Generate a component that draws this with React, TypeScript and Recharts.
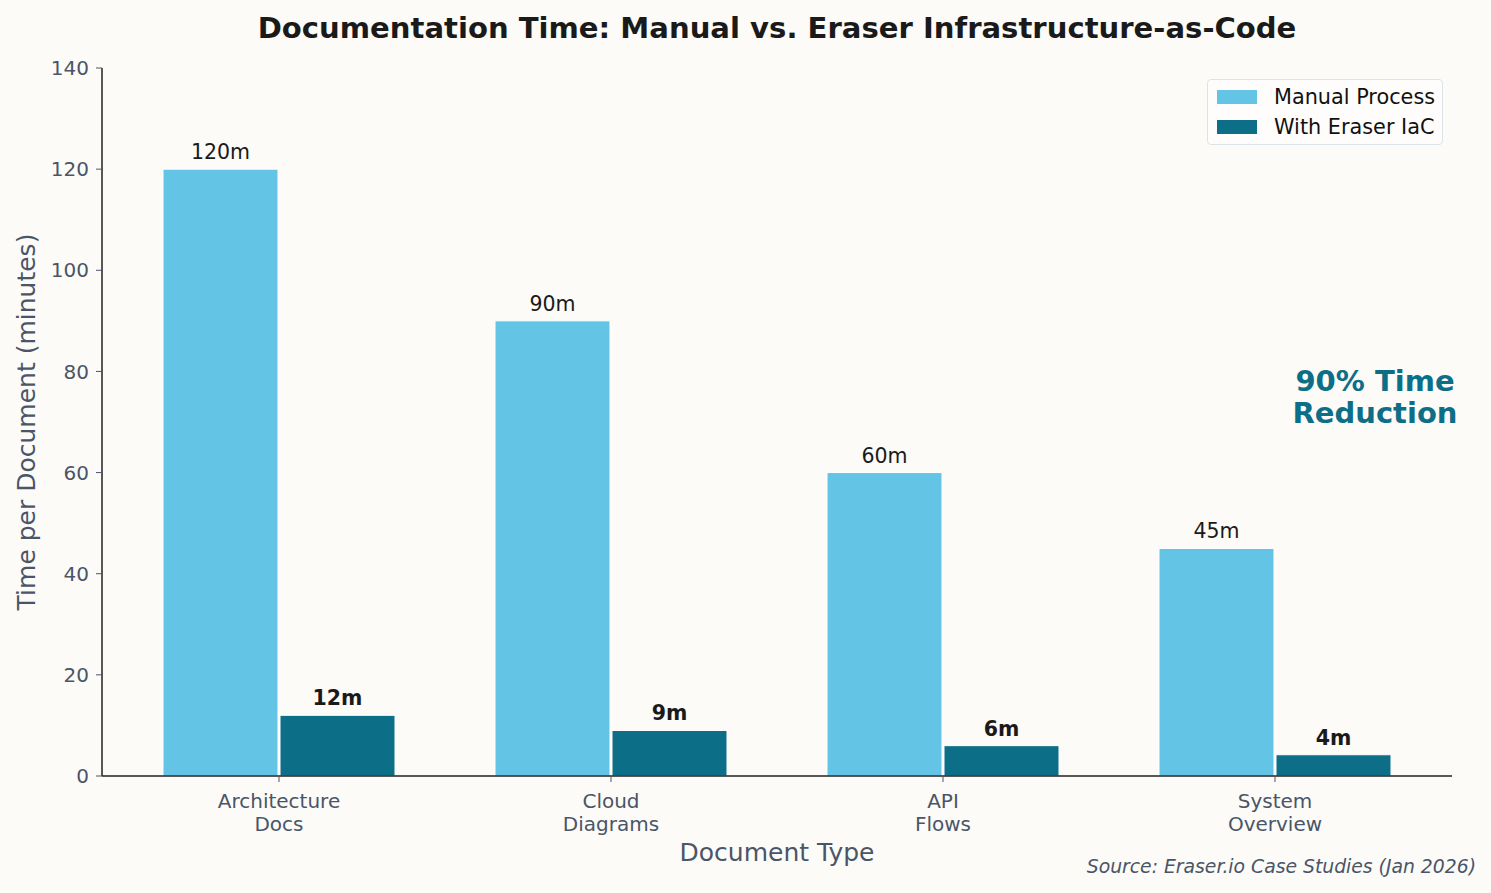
import React from 'react';
import { BarChart, Bar, XAxis, YAxis, LabelList } from 'recharts';

const categories = ['Architecture\nDocs', 'Cloud\nDiagrams', 'API\nFlows', 'System\nOverview'];
const manualMinutes = [120, 90, 60, 45];
const eraserMinutes = [12, 9, 6, 4.2];
const eraserLabels = ['12m', '9m', '6m', '4m'];
const yTicks = [0, 20, 40, 60, 80, 100, 120, 140];

const MANUAL = '#64C4E5';
const ERASER = '#0C6E87';
const GRAY = '#4A5568';
const FONT = 'DejaVu Sans, sans-serif';

const data = categories.map((name, i) => ({
  name,
  manual: manualMinutes[i],
  eraser: eraserMinutes[i],
  eraserLabel: eraserLabels[i],
}));

const CategoryTick = (props: any) => {
  const { x, y, payload } = props;
  const lines = String(payload.value).split('\n');
  return (
    <g>
      <line x1={x} x2={x} y1={y - 8} y2={y - 2} stroke={GRAY} strokeWidth={1} />
      {lines.map((line, i) => (
        <text
          key={i}
          x={x}
          y={y + 24 + i * 23}
          textAnchor="middle"
          fill={GRAY}
          fontSize={20}
          fontFamily={FONT}
        >
          {line}
        </text>
      ))}
    </g>
  );
};

const legendItems = [
  { label: 'Manual Process', color: MANUAL },
  { label: 'With Eraser IaC', color: ERASER },
];

const text = (style: React.CSSProperties): React.CSSProperties => ({
  position: 'absolute',
  whiteSpace: 'nowrap',
  ...style,
});

export default function App() {
  return (
    <div
      style={{
        position: 'fixed',
        left: 0,
        top: 0,
        width: 1491,
        height: 893,
        background: '#FCFBF7',
        fontFamily: FONT,
      }}
    >
      <div
        style={text({
          left: 102,
          width: 1350,
          top: 11,
          lineHeight: '34px',
          textAlign: 'center',
          fontSize: 29.1,
          fontWeight: 'bold',
          color: '#1a1a1a',
        })}
      >
        Documentation Time: Manual vs. Eraser Infrastructure-as-Code
      </div>

      <BarChart
        width={1491}
        height={893}
        data={data}
        margin={{ top: 68, right: 39, left: 42, bottom: 57 }}
        barSize={115}
        barGap={2}
      >
        <XAxis
          dataKey="name"
          height={60}
          tick={<CategoryTick />}
          tickLine={false}
          axisLine={{ stroke: '#222', strokeWidth: 1.5 }}
          padding={{ left: 11, right: 11 }}
          interval={0}
        />
        <YAxis
          width={60}
          domain={[0, 140]}
          ticks={yTicks}
          allowDataOverflow
          tick={{ fill: GRAY, fontSize: 20, fontFamily: FONT }}
          tickLine={{ stroke: GRAY }}
          tickSize={6}
          tickMargin={7}
          axisLine={{ stroke: '#222', strokeWidth: 1.5 }}
        />
        <Bar dataKey="manual" fill={MANUAL} stroke="#ffffff" strokeWidth={1} isAnimationActive={false}>
          <LabelList
            dataKey="manual"
            position="top"
            offset={10}
            formatter={(v: any) => `${v}m`}
            style={{ fill: '#1a1a1a', fontSize: 20.5, fontFamily: FONT }}
          />
        </Bar>
        <Bar dataKey="eraser" fill={ERASER} stroke="#ffffff" strokeWidth={1} isAnimationActive={false}>
          <LabelList
            dataKey="eraserLabel"
            position="top"
            offset={10}
            style={{ fill: '#1a1a1a', fontSize: 20.5, fontWeight: 'bold', fontFamily: FONT }}
          />
        </Bar>
      </BarChart>

      <div
        style={{
          position: 'absolute',
          left: 1207,
          top: 79,
          width: 236,
          height: 66,
          boxSizing: 'border-box',
          border: '1.5px solid #DDE3EA',
          borderRadius: 4,
          background: 'rgba(255,255,255,0.6)',
          padding: '2px 0 0 9px',
          fontSize: 20.8,
          color: '#111',
        }}
      >
        {legendItems.map((item) => (
          <div key={item.label} style={{ display: 'flex', alignItems: 'center', height: 30 }}>
            <span style={{ width: 40, height: 14, background: item.color, marginRight: 17 }} />
            <span>{item.label}</span>
          </div>
        ))}
      </div>

      <div
        style={text({
          left: 26,
          top: 422,
          transform: 'translate(-50%, -50%) rotate(-90deg)',
          fontSize: 25,
          color: GRAY,
        })}
      >
        Time per Document (minutes)
      </div>
      <div
        style={text({
          left: 102,
          width: 1350,
          top: 838,
          lineHeight: '30px',
          textAlign: 'center',
          fontSize: 25,
          color: GRAY,
        })}
      >
        Document Type
      </div>
      <div
        style={text({
          left: 1275,
          width: 200,
          top: 365,
          textAlign: 'center',
          fontSize: 29,
          fontWeight: 'bold',
          lineHeight: '32px',
          color: ERASER,
        })}
      >
        90% Time
        <br />
        Reduction
      </div>
      <div
        style={text({
          right: 15,
          top: 856,
          lineHeight: '22px',
          fontSize: 18.8,
          fontStyle: 'italic',
          color: GRAY,
        })}
      >
        Source: Eraser.io Case Studies (Jan 2026)
      </div>
    </div>
  );
}
